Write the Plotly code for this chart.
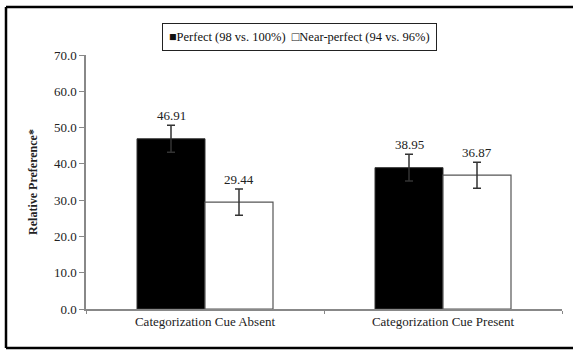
import plotly.graph_objects as go

categories = ["Categorization Cue Absent", "Categorization Cue Present"]
perfect_vals = [46.91, 38.95]
perfect_err = [3.7, 3.7]
near_vals = [29.44, 36.87]
near_err = [3.6, 3.6]
series_names = ["Perfect (98 vs. 100%)", "Near-perfect (94 vs. 96%)"]
y_ticks = [0, 10, 20, 30, 40, 50, 60, 70]

FONT = "Liberation Serif, Times New Roman, serif"
W, H = 573, 350
ML, MR, MT, MB = 86, 11, 55, 41
PW = W - ML - MR
PH = H - MT - MB

fig = go.Figure()
fig.add_trace(go.Bar(
    name=series_names[0], x=categories, y=perfect_vals,
    marker=dict(color="black", line=dict(color="#333333", width=1)),
    error_y=dict(type="data", array=perfect_err, color="#333333", thickness=1.5, width=4),
    showlegend=False,
))
fig.add_trace(go.Bar(
    name=series_names[1], x=categories, y=near_vals,
    marker=dict(color="white", line=dict(color="#555555", width=1.2)),
    error_y=dict(type="data", array=near_err, color="#333333", thickness=1.5, width=4),
    showlegend=False,
))

# data labels above error bars
cat_w = PW / len(categories)
bar_w = 68
for i, c in enumerate(categories):
    for vals, errs, sh in ((perfect_vals, perfect_err, -bar_w / 2), (near_vals, near_err, bar_w / 2)):
        fig.add_annotation(
            x=c, y=vals[i] + errs[i], xref="x", yref="y",
            text=f"{vals[i]:.2f}", showarrow=False,
            xshift=sh, yshift=0, yanchor="bottom",
            font=dict(family=FONT, size=13, color="#222222"),
        )

# legend box
fig.add_annotation(
    x=(299 - ML) / PW, y=(H - MB - 37) / PH, xref="paper", yref="paper",
    text=f"■{series_names[0]}  □{series_names[1]}", showarrow=False,
    xanchor="center", yanchor="middle",
    bordercolor="#222222", borderwidth=1, borderpad=6, bgcolor="white",
    font=dict(family=FONT, size=12.5, color="#111111"),
)

# outer frame: left, top and bottom edges (right edge lies beyond the picture)
fx0 = (6 - ML) / PW
fx1 = (W + 20 - ML) / PW
fy0 = (H - MB - 348) / PH
fy1 = (H - MB - 7) / PH
frame = dict(color="black", width=2.5)
for x0, y0, x1, y1 in ((fx0, fy0, fx0, fy1), (fx0, fy1, fx1, fy1), (fx0, fy0, fx1, fy0)):
    fig.add_shape(type="line", xref="paper", yref="paper",
                  x0=x0, y0=y0, x1=x1, y1=y1, line=frame, layer="below")

fig.update_layout(
    width=W, height=H,
    margin=dict(l=ML, r=MR, t=MT, b=MB, autoexpand=False),
    barmode="group", bargap=1 - 2 * bar_w / cat_w, bargroupgap=0,
    plot_bgcolor="white", paper_bgcolor="white",
    font=dict(family=FONT, size=13, color="#222222"),
)
fig.update_xaxes(
    type="category", tickson="boundaries", ticks="outside", ticklen=3,
    tickcolor="#888888", showline=True, linecolor="#888888", linewidth=1.5,
    showgrid=False, automargin=False, tickfont=dict(family=FONT, size=13, color="#222222"),
)
fig.update_yaxes(
    range=[0, 70], tickvals=y_ticks, tickformat=".1f", ticks="outside", ticklen=5,
    tickcolor="#888888", showline=True, linecolor="#888888", linewidth=1.5,
    showgrid=False, zeroline=False, automargin=False,
    tickfont=dict(family=FONT, size=13, color="#222222"),
    title=dict(text="<b>Relative Preference*</b>", font=dict(family=FONT, size=12, color="#222222"), standoff=14),
)

fig.write_html(
    "out.html", config={"displayModeBar": False},
    post_script="document.body.style.margin='0';document.body.style.overflow='hidden';"
                "document.documentElement.style.overflow='hidden';",
)
